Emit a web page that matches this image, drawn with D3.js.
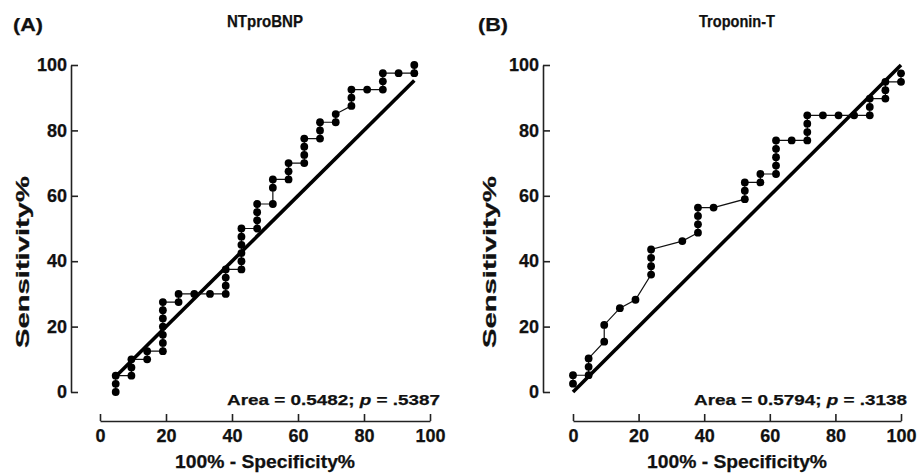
<!DOCTYPE html>
<html>
<head>
<meta charset="utf-8">
<script src="https://cdn.jsdelivr.net/npm/d3@7"></script>
<style>
body { margin: 0; background: #fff; }
text { font-family: "Liberation Sans", Arial, sans-serif; font-weight: bold; fill: #111; stroke: #111; stroke-width: 0.25px; }
</style>
</head>
<body>
<script>
// tick values shared by both panels
var xTicks = [0, 20, 40, 60, 80, 100];
var yTicks = [0, 20, 40, 60, 80, 100];

// (A) NTproBNP roc points: 100% - specificity% and sensitivity%
var bnpFpr = [4.76, 4.76, 4.76, 9.52, 9.52, 9.52, 14.29, 14.29,
  19.05, 19.05, 19.05, 19.05, 19.05, 19.05, 19.05, 23.81, 23.81, 28.57, 33.33,
  38.1, 38.1, 38.1, 38.1, 42.86, 42.86, 42.86, 42.86, 42.86, 42.86,
  47.62, 47.62, 47.62, 47.62, 52.38, 52.38, 52.38, 57.14, 57.14, 57.14,
  61.9, 61.9, 61.9, 61.9, 66.67, 66.67, 66.67, 71.43, 71.43,
  76.19, 76.19, 76.19, 80.95, 85.71, 85.71, 85.71, 90.48, 95.24, 95.24];
var bnpSens = [0, 2.5, 5, 5, 7.5, 10, 10, 12.5,
  12.5, 15, 17.5, 20, 22.5, 25, 27.5, 27.5, 30, 30, 30,
  30, 32.5, 35, 37.5, 37.5, 40, 42.5, 45, 47.5, 50,
  50, 52.5, 55, 57.5, 57.5, 62.5, 65, 65, 67.5, 70,
  70, 72.5, 75, 77.5, 77.5, 80, 82.5, 82.5, 85,
  87.5, 90, 92.5, 92.5, 92.5, 95, 97.5, 97.5, 97.5, 100];
var bnpDiag = [4.76, 95.24];

// (B) Troponin-T roc points
var tntFpr = [0, 0, 4.76, 4.76, 4.76, 9.52, 9.52, 14.29, 19.05,
  23.81, 23.81, 23.81, 23.81, 33.33, 38.1, 38.1, 38.1, 38.1, 42.86,
  52.38, 52.38, 52.38, 57.14, 57.14, 61.9, 61.9, 61.9, 61.9, 61.9, 66.67,
  71.43, 71.43, 71.43, 71.43, 76.19, 80.95, 85.71, 90.48, 90.48, 90.48,
  95.24, 95.24, 95.24, 100, 100];
var tntSens = [2.56, 5.13, 5.13, 7.69, 10.26, 15.38, 20.51, 25.64, 28.21,
  35.9, 38.46, 41.03, 43.59, 46.15, 48.72, 51.28, 53.85, 56.41, 56.41,
  58.97, 61.54, 64.1, 64.1, 66.67, 66.67, 69.23, 71.79, 74.36, 76.92, 76.92,
  76.92, 79.49, 82.05, 84.62, 84.62, 84.62, 84.62, 84.62, 87.18, 89.74,
  89.74, 92.31, 94.87, 94.87, 97.44];
var tntDiag = [0, 100];

var width = 917, height = 475;

var svg = d3.select("body").append("svg")
  .attr("width", width)
  .attr("height", height);

function panel(opt) {
  var x = d3.scaleLinear().domain([0, 100]).range([opt.left, opt.right]);
  var y = d3.scaleLinear().domain([0, 100]).range([392, 65]);
  var g = svg.append("g");

  // offset axes, ticks pointing inward like prism
  var yAxis = g.append("g")
    .attr("transform", "translate(" + opt.yAxisX + ",0)")
    .call(d3.axisLeft(y).tickValues(yTicks).tickSizeInner(-7).tickSizeOuter(0).tickPadding(4));
  var xAxis = g.append("g")
    .attr("transform", "translate(0,421)")
    .call(d3.axisBottom(x).tickValues(xTicks).tickSizeInner(-7).tickSizeOuter(0).tickPadding(8));
  [xAxis, yAxis].forEach(function(a) {
    a.select(".domain").attr("stroke", "#222").attr("stroke-width", 1.6);
    a.selectAll(".tick line").attr("stroke", "#222").attr("stroke-width", 1.6);
    a.selectAll("text").attr("font-size", 18).attr("font-family", null).attr("fill", "#111");
  });

  // identity line
  g.append("line")
    .attr("x1", x(opt.diag[0])).attr("y1", y(opt.diag[0]))
    .attr("x2", x(opt.diag[1])).attr("y2", y(opt.diag[1]))
    .attr("stroke", "#000").attr("stroke-width", 3.6);

  var pts = opt.fpr.map(function(d, i) { return [d, opt.sens[i]]; });
  var line = d3.line().x(function(d) { return x(d[0]); }).y(function(d) { return y(d[1]); });
  g.append("path").datum(pts)
    .attr("d", line)
    .attr("fill", "none").attr("stroke", "#111").attr("stroke-width", 1.2);
  g.selectAll("circle").data(pts).enter().append("circle")
    .attr("cx", function(d) { return x(d[0]); })
    .attr("cy", function(d) { return y(d[1]); })
    .attr("r", 3.9)
    .attr("fill", "#000");

  // titles and labels
  g.append("text").attr("x", opt.tagX).attr("y", 31)
    .attr("font-size", 19).attr("textLength", 30).attr("lengthAdjust", "spacingAndGlyphs")
    .text(opt.tag);
  g.append("text").attr("x", (opt.left + opt.right) / 2).attr("y", 27)
    .attr("text-anchor", "middle").attr("font-size", 16.5)
    .attr("textLength", 76).attr("lengthAdjust", "spacingAndGlyphs")
    .text(opt.title);
  g.append("text")
    .attr("transform", "translate(" + opt.yTitleX + ",262) rotate(-90)")
    .attr("text-anchor", "middle").attr("font-size", 19)
    .attr("textLength", 172).attr("lengthAdjust", "spacingAndGlyphs")
    .text("Sensitivity%");
  g.append("text").attr("x", (opt.left + opt.right) / 2).attr("y", 468)
    .attr("text-anchor", "middle").attr("font-size", 18.5)
    .attr("textLength", 180).attr("lengthAdjust", "spacingAndGlyphs")
    .text("100% - Specificity%");

  var area = g.append("text").attr("x", opt.areaX).attr("y", 405)
    .attr("font-size", 15.5).attr("textLength", 213).attr("lengthAdjust", "spacingAndGlyphs");
  area.append("tspan").text("Area = " + opt.area + "; ");
  area.append("tspan").attr("font-style", "italic").text("p");
  area.append("tspan").text(" = " + opt.p);
}

panel({ left: 100, right: 430, yAxisX: 71, fpr: bnpFpr, sens: bnpSens, diag: bnpDiag,
  tag: "(A)", tagX: 13, title: "NTproBNP", yTitleX: 29, areaX: 227, area: "0.5482", p: ".5387" });
panel({ left: 573, right: 901, yAxisX: 543, fpr: tntFpr, sens: tntSens, diag: tntDiag,
  tag: "(B)", tagX: 478, title: "Troponin-T", yTitleX: 496, areaX: 694, area: "0.5794", p: ".3138" });
</script>
</body>
</html>
